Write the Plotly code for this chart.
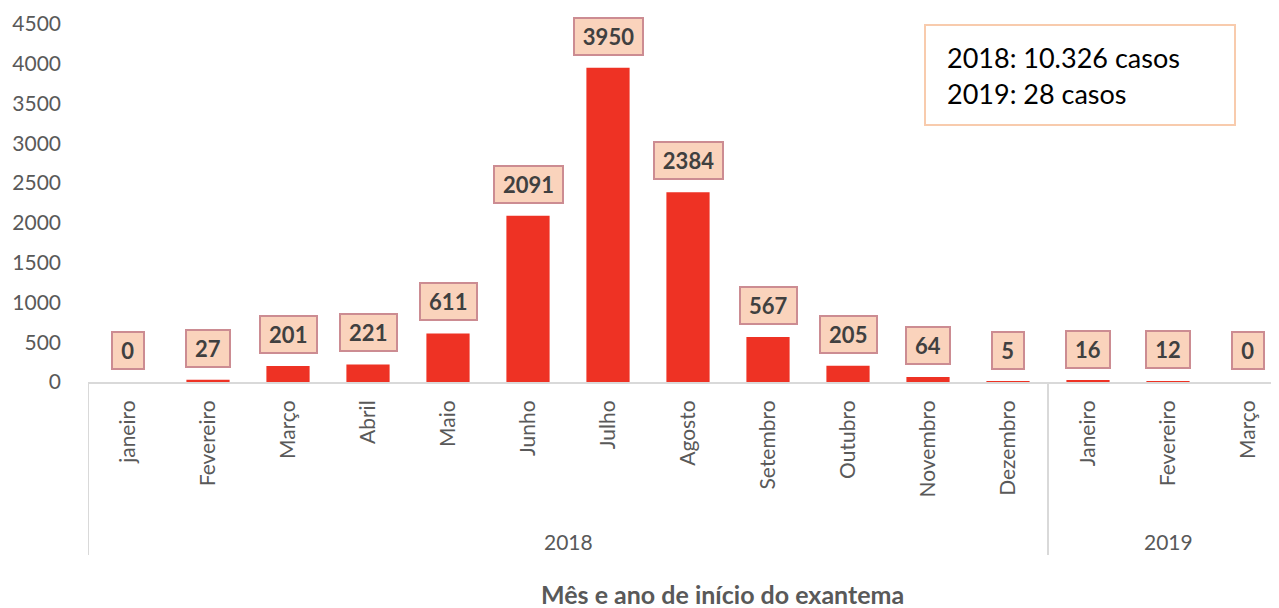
import plotly.graph_objects as go

months = ["janeiro", "Fevereiro", "Março", "Abril", "Maio", "Junho", "Julho",
          "Agosto", "Setembro", "Outubro", "Novembro", "Dezembro",
          "Janeiro", "Fevereiro", "Março"]
values = [0, 27, 201, 221, 611, 2091, 3950, 2384, 567, 205, 64, 5, 16, 12, 0]
years = ["2018", "2019"]
year_spans = [(0, 11), (12, 14)]
summary = ["2018: 10.326 casos", "2019: 28 casos"]
y_ticks = [0, 500, 1000, 1500, 2000, 2500, 3000, 3500, 4000, 4500]

# page has an 8px body margin; figure sized to fit the window
OFF = 8
W, H = 1279 - OFF, 608 - OFF
PL, PT, PB = 88, 24, 382          # plot-area edges in page pixels
L, R, T = PL - OFF, 0, PT - OFF
B = H - (PB - OFF)
pw = W - L - R
ph = H - T - B
step = 80.0
xr = [-0.5, -0.5 + pw / step]

def px_x(px):
    return (px - PL) / pw

def px_y(py):
    return (PB - py) / ph

xs = list(range(len(months)))
font = "Lato, Open Sans, sans-serif"

fig = go.Figure()
fig.add_trace(go.Bar(x=xs, y=values, width=0.54, marker=dict(color="#EE3224", line=dict(width=0)),
                     hoverinfo="x+y"))

annotations = []
for x, v in zip(xs, values):
    annotations.append(dict(x=x, y=v, xref="x", yref="y", text=f"<b>{v}</b>", showarrow=False,
                            yanchor="bottom", yshift=12, width=12.5 * len(str(v)) + 9,
                            font=dict(family=font, size=22, color="#404040"),
                            bgcolor="#FAD3BC", bordercolor="#CC8C92", borderwidth=2, borderpad=4))

for yr, (a, b) in zip(years, year_spans):
    annotations.append(dict(x=(a + b) / 2, y=px_y(541), xref="x", yref="paper", text=yr,
                            xanchor="center", yanchor="middle",
                            showarrow=False, font=dict(family=font, size=21, color="#595959")))

annotations.append(dict(x=px_x(722), y=px_y(594), xref="paper", yref="paper",
                        text="<b>Mês e ano de início do exantema</b>", showarrow=False,
                        xanchor="center", yanchor="middle",
                        font=dict(family=font, size=25, color="#595959")))

for i, line in enumerate(summary):
    annotations.append(dict(x=px_x(945), y=px_y(57 + 37 * i), xref="paper", yref="paper",
                            text=line, showarrow=False, xanchor="left", yanchor="middle",
                            font=dict(family=font, size=27, color="#000000")))

shapes = [
    dict(type="rect", xref="paper", yref="paper", x0=px_x(925), x1=px_x(1235),
         y0=px_y(125), y1=px_y(25), line=dict(color="#F8CBAD", width=2), fillcolor="white",
         layer="below"),
]
for xv in [-0.5, 11.5]:
    shapes.append(dict(type="line", xref="x", yref="paper", x0=xv, x1=xv, y0=0, y1=px_y(555),
                       line=dict(color="#D9D9D9", width=2)))

fig.update_layout(
    width=W, height=H,
    margin=dict(l=L, r=R, t=T, b=B, autoexpand=False),
    paper_bgcolor="white", plot_bgcolor="white",
    showlegend=False,
    annotations=annotations, shapes=shapes,
    xaxis=dict(range=xr, tickvals=xs, ticktext=months, tickangle=-90, automargin=False,
               tickfont=dict(family=font, size=21, color="#595959"),
               showline=True, linecolor="#D9D9D9", linewidth=2, showgrid=False,
               zeroline=False, ticks="", ticklabelstandoff=8, fixedrange=True,
               layer="below traces"),
    yaxis=dict(range=[0, 4500], tickvals=y_ticks, showgrid=False, zeroline=False,
               showline=False, ticks="", ticklabelstandoff=26, automargin=False,
               tickfont=dict(family=font, size=21, color="#595959")),
    bargap=0.46,
)

fig.write_html("out.html")
